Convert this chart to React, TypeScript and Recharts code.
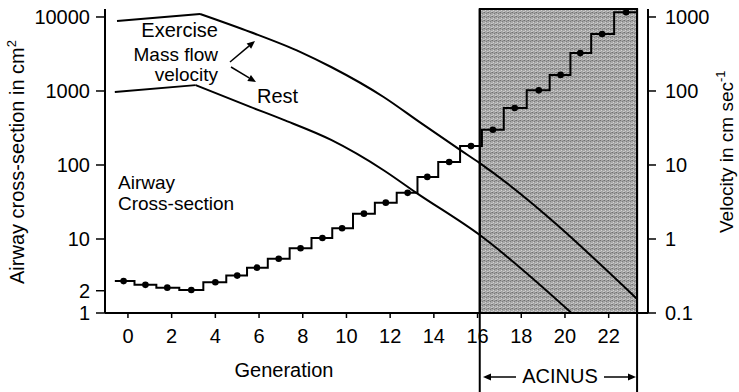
import { ComposedChart, Line, XAxis, YAxis, ReferenceArea, ReferenceLine, Customized } from "recharts"

// airway cross-section (cm2) per generation, x positions
const generation = [-0.2, 0.8, 1.8, 2.9, 4.0, 5.0, 5.9, 6.9, 7.9, 8.9, 9.8, 10.8, 11.8, 12.8, 13.7, 14.7, 15.7, 16.7, 17.7, 18.8, 19.8, 20.7, 21.7, 22.8]
const crossSection = [2.7, 2.4, 2.2, 2.05, 2.6, 3.2, 4.1, 5.4, 7.5, 10.3, 14, 22, 31, 42, 69, 110, 180, 300, 590, 1020, 1650, 3250, 5900, 11600]
const stepStart = -0.6
const stepEnd = 23.3

// mass flow velocity (cm/sec), rising part then falling part
const exerciseGen = [-0.5, 3.3, 5.6, 7.9, 9.3, 11.7, 13.4, 15.2, 16.1, 23.3]
const exerciseVel = [883, 1100, 627, 336, 211, 83, 37, 16, 10.6, 0.155]
const restGen = [-0.6, 3.1, 5.6, 7.1, 9.3, 11.7, 13.2, 16.1, 20.3]
const restVel = [97, 120, 61, 41, 21.8, 8.5, 4.2, 1.13, 0.1]

const genTicks = [0, 2, 4, 6, 8, 10, 12, 14, 16, 18, 20, 22]
const areaTicks = [1, 2, 10, 100, 1000, 10000]
const velTicks = [0.1, 1, 10, 100, 1000]
const acinus = [16.1, 23.3]

const stepData = [
  { g: stepStart, a: crossSection[0] },
  ...generation.map((g, i) => ({ g, a: crossSection[i] })),
  { g: stepEnd, a: crossSection[crossSection.length - 1] },
]
const dotData = generation.map((g, i) => ({ g, a: crossSection[i] }))
const exerciseData = exerciseGen.map((g, i) => ({ g, v: exerciseVel[i] }))
const restData = restGen.map((g, i) => ({ g, v: restVel[i] }))

function Arrow({ x1, y1, x2, y2 }: { x1: number; y1: number; x2: number; y2: number }) {
  const ang = Math.atan2(y2 - y1, x2 - x1)
  const len = 8
  const w = 3.5
  const bx = x2 - len * Math.cos(ang)
  const by = y2 - len * Math.sin(ang)
  const px = -Math.sin(ang) * w
  const py = Math.cos(ang) * w
  return (
    <g>
      <line x1={x1} y1={y1} x2={bx} y2={by} stroke="#000" strokeWidth={1.5} />
      <polygon points={`${x2},${y2} ${bx + px},${by + py} ${bx - px},${by - py}`} fill="#000" />
    </g>
  )
}

function Annotations() {
  return (
    <g fontSize={20} fill="#000">
      <defs>
        <pattern id="halftone" width={4} height={4} patternUnits="userSpaceOnUse">
          <rect width={4} height={4} fill="#a6a6a6" />
          <rect width={1} height={1} x={0} y={0} fill="#707070" />
          <rect width={1} height={1} x={2} y={1} fill="#7c7c7c" />
          <rect width={1} height={1} x={1} y={2} fill="#d2d2d2" />
          <rect width={1} height={1} x={3} y={3} fill="#cccccc" />
          <rect width={1} height={1} x={3} y={0} fill="#8c8c8c" />
          <rect width={1} height={1} x={0} y={3} fill="#bfbfbf" />
        </pattern>
      </defs>
      <text x={218} y={37} textAnchor="end">Exercise</text>
      <text x={218} y={61} fontSize={19} textAnchor="end">Mass flow</text>
      <text x={218} y={81} fontSize={19} textAnchor="end">velocity</text>
      <text x={257} y={103}>Rest</text>
      <text x={118} y={189} fontSize={19}>Airway</text>
      <text x={118} y={210} fontSize={19}>Cross-section</text>
      <Arrow x1={230} y1={62} x2={255} y2={41} />
      <Arrow x1={231} y1={67} x2={256} y2={82} />
      <text x={284} y={377} textAnchor="middle">Generation</text>
      <text x={560} y={383} textAnchor="middle">ACINUS</text>
      <Arrow x1={516} y1={377} x2={483} y2={377} />
      <Arrow x1={604} y1={377} x2={636} y2={377} />
      <text transform="translate(24,284) rotate(-90)">
        Airway cross-section in cm<tspan fontSize={13} dy={-8}>2</tspan>
      </text>
      <text transform="translate(733,233) rotate(-90)" fontSize={19}>
        Velocity in cm sec<tspan fontSize={13} dy={-8}>-1</tspan>
      </text>
    </g>
  )
}

export default function App() {
  return (
    <div style={{ position: "absolute", left: 0, top: 0, fontFamily: '"Liberation Sans", Arial, sans-serif' }}>
      <ComposedChart width={739} height={392} margin={{ top: 9, right: 0, bottom: 0, left: 0 }}>
        <XAxis
          dataKey="g"
          type="number"
          domain={[-1.05, 23.8]}
          ticks={genTicks}
          interval={0}
          allowDataOverflow
          height={79}
          tickSize={5}
          tickMargin={11}
          axisLine={{ stroke: "#000", strokeWidth: 2 }}
          tickLine={{ stroke: "#000", strokeWidth: 1.5 }}
          tick={{ fill: "#000", fontSize: 20 }}
        />
        <YAxis
          yAxisId="left"
          type="number"
          scale="log"
          domain={[1, 12820]}
          ticks={areaTicks}
          interval={0}
          allowDataOverflow
          width={105}
          tickSize={9}
          tickMargin={6}
          axisLine={{ stroke: "#000", strokeWidth: 2 }}
          tickLine={{ stroke: "#000", strokeWidth: 1.5 }}
          tick={{ fill: "#000", fontSize: 20 }}
        />
        <YAxis
          yAxisId="right"
          orientation="right"
          type="number"
          scale="log"
          domain={[0.1, 1282]}
          ticks={velTicks}
          interval={0}
          allowDataOverflow
          width={91}
          tickSize={8}
          tickMargin={9}
          axisLine={{ stroke: "#000", strokeWidth: 2 }}
          tickLine={{ stroke: "#000", strokeWidth: 1.5 }}
          tick={{ fill: "#000", fontSize: 20 }}
        />
        <Customized component={<Annotations />} />
        <ReferenceArea yAxisId="left" x1={acinus[0]} x2={acinus[1]} fill="url(#halftone)" fillOpacity={1} stroke="#000" strokeWidth={2} />
        <ReferenceLine
          yAxisId="left"
          ifOverflow="visible"
          segment={[{ x: acinus[0], y: 12820 }, { x: acinus[0], y: 0.085 }]}
          stroke="#000"
          strokeWidth={2}
        />
        <ReferenceLine
          yAxisId="left"
          ifOverflow="visible"
          segment={[{ x: acinus[1], y: 12820 }, { x: acinus[1], y: 0.085 }]}
          stroke="#000"
          strokeWidth={2}
        />
        <Line yAxisId="left" data={stepData} dataKey="a" type="step" stroke="#000" strokeWidth={2} dot={false} isAnimationActive={false} />
        <Line yAxisId="left" data={dotData} dataKey="a" stroke="none" dot={{ r: 3.3, fill: "#000", stroke: "none" }} isAnimationActive={false} />
        <Line yAxisId="right" data={exerciseData.slice(0, 2)} dataKey="v" type="linear" stroke="#000" strokeWidth={2} dot={false} isAnimationActive={false} />
        <Line yAxisId="right" data={exerciseData.slice(1)} dataKey="v" type="monotone" stroke="#000" strokeWidth={2} dot={false} isAnimationActive={false} />
        <Line yAxisId="right" data={restData.slice(0, 2)} dataKey="v" type="linear" stroke="#000" strokeWidth={2} dot={false} isAnimationActive={false} />
        <Line yAxisId="right" data={restData.slice(1)} dataKey="v" type="monotone" stroke="#000" strokeWidth={2} dot={false} isAnimationActive={false} />
      </ComposedChart>
    </div>
  )
}
